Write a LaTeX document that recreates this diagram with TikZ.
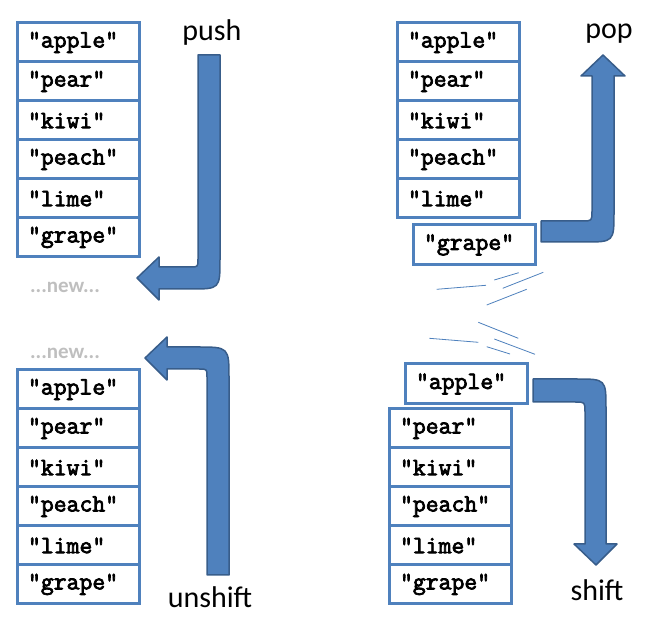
\documentclass[tikz,border=0pt]{standalone}
\usepackage{fontspec}
\setmainfont{Carlito}
\newfontfamily\courb{Latin Modern Mono}[FakeBold=3]
\definecolor{boxblue}{HTML}{4F81BD}
\definecolor{arrowfill}{HTML}{4F81BD}
\definecolor{arrowline}{HTML}{385D8A}
\definecolor{newgray}{HTML}{BFBFBF}
\tikzset{
  cell/.style={draw=boxblue, line width=3pt, rectangle, minimum width=122pt, minimum height=39pt,
    text width=100pt, inner xsep=11pt, inner ysep=0pt, align=left,
    font=\fontsize{25}{27}\selectfont\courb},
  loose/.style={cell, minimum height=40pt},
  opname/.style={font=\fontsize{30}{32}\selectfont, inner sep=0pt},
  newlabel/.style={font=\fontsize{21}{23}\selectfont\bfseries, text=newgray, inner sep=0pt},
  bigarrow/.style={fill=arrowfill, draw=arrowline, line width=1.5pt, line join=round},
  scribble/.style={draw=boxblue, line width=0.8pt}
}
\begin{document}
\begin{tikzpicture}[x=1pt,y=-1pt]
\useasboundingbox (0,0) rectangle (649,620);
% ---------------- push (top left)
\node[cell] (a1) at (78,42.5) {"apple"};
\node[cell] (a2) at (78,81.5) {"pear"};
\node[cell] (a3) at (78,120.5) {"kiwi"};
\node[cell] (a4) at (78,159.5) {"peach"};
\node[cell] (a5) at (78,198.5) {"lime"};
\node[cell] (a6) at (78,237.5) {"grape"};
\node[newlabel] (anew) at (65,287.5) {...new...};
\node[opname] (push) at (212,33) {push};
\draw[bigarrow] (198,55) -- (220,55) -- (220,259) .. controls (220,289) .. (190,289) -- (159,289) -- (159,300) -- (137,278) -- (159,257) -- (159,267) -- (190,267) .. controls (198,267) .. (198,259) -- cycle;
% ---------------- pop (top right)
\node[cell] (b1) at (458,42.5) {"apple"};
\node[cell] (b2) at (458,81.5) {"pear"};
\node[cell] (b3) at (458,120.5) {"kiwi"};
\node[cell] (b4) at (458,159.5) {"peach"};
\node[cell] (b5) at (458,198.5) {"lime"};
\node[loose] (b6) at (474,245) {"grape"};
\node[opname] (pop) at (609,34) {pop};
\draw[bigarrow] (541,221) -- (582,221) .. controls (592,221) .. (592,211) -- (592,76) -- (581,76) -- (603,55) -- (625,76) -- (614,76) -- (614,212) .. controls (614,242) .. (584,242) -- (541,242) -- cycle;
% scribbles
\draw[scribble] (436.7,289.3) -- (486,285.3);
\draw[scribble] (494.3,280) -- (518.7,272.7);
\draw[scribble] (502.7,288.3) -- (543.3,272.3);
\draw[scribble] (486.7,305) -- (526.7,289.3);
\draw[scribble] (478.3,322.3) -- (518.3,338.3);
\draw[scribble] (429.3,338.3) -- (478.3,342.3);
\draw[scribble] (494.3,339) -- (535,354.3);
\draw[scribble] (486.7,346.7) -- (510,354);
% ---------------- unshift (bottom left)
\node[newlabel] (cnew) at (65,353.5) {...new...};
\node[cell] (c1) at (78,389.5) {"apple"};
\node[cell] (c2) at (78,428.5) {"pear"};
\node[cell] (c3) at (78,467.5) {"kiwi"};
\node[cell] (c4) at (78,506.5) {"peach"};
\node[cell] (c5) at (78,545.5) {"lime"};
\node[cell] (c6) at (78,584.5) {"grape"};
\node[opname] (unshift) at (210,597) {unshift};
\draw[bigarrow] (207,575) -- (207,377) .. controls (207,369) .. (199,369) -- (167,369) -- (167,380) -- (145,358) -- (167,337) -- (167,347) -- (197,347) .. controls (229,347) .. (229,379) -- (229,575) -- cycle;
% ---------------- shift (bottom right)
\node[loose] (d1) at (466,384) {"apple"};
\node[cell] (d2) at (450,428.5) {"pear"};
\node[cell] (d3) at (450,467.5) {"kiwi"};
\node[cell] (d4) at (450,506.5) {"peach"};
\node[cell] (d5) at (450,545.5) {"lime"};
\node[cell] (d6) at (450,584.5) {"grape"};
\node[opname] (shift) at (597,590) {shift};
\draw[bigarrow] (533,379) -- (576,379) .. controls (606,379) .. (606,409) -- (606,544) -- (617,544) -- (596,565) -- (574,544) -- (585,544) -- (585,412) .. controls (585,402) .. (575,402) -- (533,402) -- cycle;
\end{tikzpicture}
\end{document}
